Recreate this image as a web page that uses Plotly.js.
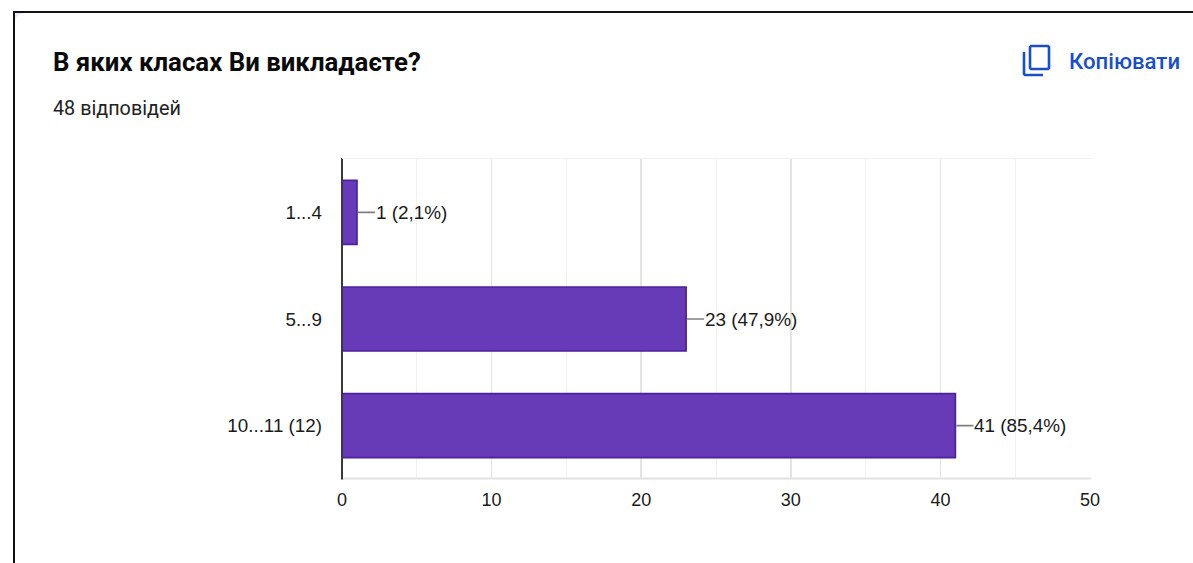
<!DOCTYPE html>
<html><head><meta charset="utf-8">
<script src="https://cdn.plot.ly/plotly-3.0.1.min.js"></script>
<style>html,body{margin:0;padding:0;background:#fff;overflow:hidden}#c{width:1193px;height:563px}</style>
</head><body><div id="c"></div>
<script>
const categories = ['1...4', '5...9', '10...11 (12)'];
const counts = [1, 23, 41];
const labels = ['1 (2,1%)', '23 (47,9%)', '41 (85,4%)'];
const chartTitle = 'В яких класах Ви викладаєте?';
const subtitle = '48 відповідей';
const copyLabel = 'Копіювати';
const W = 1193, H = 563;
const L = 342, R = 1090, T = 159, B = 479;
const px = x => (x - L) / (R - L), py = y => (B - y) / (B - T);
const pAbs = (x, y) => px(x) + ',' + py(y);
const rectShape = (x0, y0, x1, y1, color) => ({type:'rect', xref:'paper', yref:'paper', layer:'above',
  x0:px(x0), x1:px(x1), y0:py(y0), y1:py(y1), fillcolor:color, line:{width:0}});
const txt = (x, y, text, size, color, weight, family) => ({xref:'paper', yref:'paper', x:px(x), y:py(y),
  text, showarrow:false, xanchor:'left', yanchor:'middle',
  font:{size, color, weight:weight||400, family:family||'Roboto, sans-serif'}});
const iconBlue = '#1a4fc4';

const trace = {type:'bar', orientation:'h', x:counts, y:categories, width:0.6,
  marker:{color:'#673ab7', line:{color:'#4f1f9f', width:1.7}}, hoverinfo:'skip'};

const annotations = [
  txt(51, 62, chartTitle, 25.8, '#0a0a0a', 700),
  txt(51, 108.4, subtitle, 19.8, '#222222', 400),
  txt(1067, 61, copyLabel, 22.2, iconBlue, 500),
];
counts.forEach((v, i) => annotations.push({
  x:v, y:categories[i], xref:'x', yref:'y', text:labels[i], showarrow:true, arrowhead:0, arrowwidth:1.6,
  arrowcolor:'#7f7f7f', axref:'pixel', ayref:'pixel', ax:18, ay:0, standoff:1, startstandoff:0,
  xanchor:'left', yanchor:'middle', borderpad:0,
  font:{family:'Liberation Sans, Arial, sans-serif', size:18.9, color:'#1a1a1a'}
}));

const shapes = [
  rectShape(13, 11, W, 13, '#111111'),
  rectShape(13, 11, 15, H, '#111111'),
  rectShape(342, 477.5, 1091, 479.5, '#e2e2e2'),
  rectShape(341, 158, 343, 479.5, '#3a3a3a'),
  rectShape(342, 158, 1091, 159, '#f1f1f1'),
  {type:'path', xref:'paper', yref:'paper', layer:'above', fillcolor:'#efeaf7', line:{width:0},
   path:'M'+pAbs(15,13)+' L'+pAbs(25,13)+' Q'+pAbs(15,14)+' '+pAbs(15,24)+' Z'},
  {type:'path', xref:'paper', yref:'paper', layer:'above', fillcolor:'rgba(0,0,0,0)',
   line:{color:iconBlue, width:2.6},
   path:'M'+pAbs(1031,46)+' L'+pAbs(1048,46)+' L'+pAbs(1049,47)+' L'+pAbs(1049,68)+' L'+pAbs(1048,69)+' L'+pAbs(1031,69)+' L'+pAbs(1030,68)+' L'+pAbs(1030,47)+' Z'},
  {type:'path', xref:'paper', yref:'paper', layer:'above', fillcolor:'rgba(0,0,0,0)',
   line:{color:iconBlue, width:2.6},
   path:'M'+pAbs(1024,52)+' L'+pAbs(1024,74)+' L'+pAbs(1025,75)+' L'+pAbs(1043,75)},
];

Plotly.newPlot('c', [trace], {
  width:W, height:H, showlegend:false, paper_bgcolor:'#fff', plot_bgcolor:'#fff',
  margin:{l:L, r:W-R, t:T, b:H-B, pad:0},
  bargap:0.4,
  xaxis:{range:[0,50], tickvals:[0,10,20,30,40,50], showgrid:true, gridcolor:'#e4e4e4', gridwidth:1.5,
    minor:{dtick:5, showgrid:true, gridcolor:'#f1f1f1', gridwidth:1}, zeroline:false,
    showline:false, ticks:'', ticklabelstandoff:8,
    tickfont:{family:'Liberation Sans, Arial, sans-serif', size:18, color:'#1a1a1a'}},
  yaxis:{type:'category', autorange:'reversed', showgrid:false, zeroline:false, showline:false,
    ticks:'', ticklabelstandoff:19,
    tickfont:{family:'Liberation Sans, Arial, sans-serif', size:18.8, color:'#1a1a1a'}},
  annotations, shapes,
}, {displayModeBar:false, staticPlot:true});
</script></body></html>
